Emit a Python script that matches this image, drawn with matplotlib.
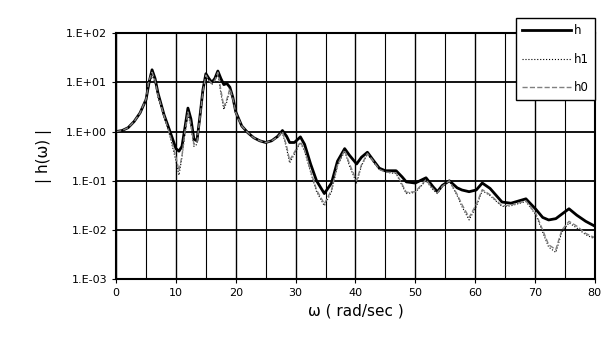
import matplotlib.pyplot as plt

w = [0, 1, 2, 3, 4, 5, 5.5, 6, 6.5, 7, 8, 9, 10, 10.5, 11, 11.5, 12, 12.5, 13, 13.5,
     14, 14.5, 15, 15.5, 16, 16.5, 17, 17.5, 18, 18.5, 19, 19.5, 20, 21, 22, 23, 24, 25,
     26, 27, 27.8, 28.5, 29, 29.8, 30.8, 31.5, 32.5, 33.5, 34.8, 36, 37, 38.2, 39, 40.2,
     41, 42, 43, 44, 45, 46.8, 47.8, 48.5, 50, 51.8, 53, 53.7, 54.5, 55.7, 57, 57.8, 59,
     60.2, 61.2, 62.5, 64.5, 66, 68.5, 70.2, 71.3, 72.3, 73.5, 74.5, 75.7, 77, 78.5, 80]

h = [1.0, 1.05, 1.2, 1.6, 2.4, 4.5, 10, 18, 12, 6, 2.2, 1.0, 0.45, 0.4, 0.5, 1.2, 3.0, 1.8, 0.7, 0.65,
     2.0, 7, 15, 12, 10, 12, 17, 12, 9, 9.5, 8, 5, 2.5, 1.3, 0.95, 0.75, 0.65, 0.6,
     0.65, 0.8, 1.05, 0.8, 0.6, 0.6, 0.78, 0.55, 0.22, 0.1, 0.055, 0.09, 0.25, 0.45, 0.33, 0.22,
     0.3, 0.38, 0.26, 0.18, 0.16, 0.16, 0.12, 0.095, 0.09, 0.115, 0.075, 0.06, 0.08, 0.1, 0.072, 0.065, 0.06,
     0.065, 0.09, 0.07, 0.037, 0.035, 0.043, 0.026, 0.018, 0.016, 0.017, 0.021, 0.027, 0.02, 0.015, 0.012]

h1 = [1.0, 1.05, 1.2, 1.6, 2.4, 4.5, 9, 14, 10, 5, 2, 0.8, 0.25, 0.13, 0.3, 0.9, 2.2, 1.3, 0.5, 0.55,
      1.8, 6, 14, 11, 9, 11, 15, 6, 2.8, 4, 7, 4.5, 2.4, 1.3, 0.95, 0.75, 0.65, 0.6,
      0.65, 0.78, 0.95, 0.45, 0.23, 0.35, 0.6, 0.4, 0.15, 0.06, 0.031, 0.06, 0.2, 0.4, 0.2, 0.09,
      0.2, 0.35, 0.24, 0.17, 0.15, 0.14, 0.08, 0.055, 0.058, 0.1, 0.065, 0.055, 0.075, 0.1, 0.05, 0.03, 0.016,
      0.03, 0.063, 0.05, 0.03, 0.031, 0.038, 0.02, 0.009, 0.0045, 0.0035, 0.009, 0.014, 0.011, 0.008, 0.0066]

h0 = [1.0, 1.05, 1.2, 1.6, 2.4, 4.6, 11, 16, 11, 5.5, 2.1, 0.85, 0.3, 0.16, 0.32, 1.0, 2.5, 1.4, 0.55, 0.6,
      1.9, 6.5, 14, 11, 9.5, 11, 16, 7, 3.2, 4.5, 7.5, 4.7, 2.4, 1.3, 0.95, 0.75, 0.65, 0.6,
      0.65, 0.78, 1.0, 0.5, 0.26, 0.38, 0.62, 0.42, 0.16, 0.065, 0.034, 0.065, 0.21, 0.42, 0.22, 0.1,
      0.21, 0.36, 0.25, 0.17, 0.15, 0.145, 0.085, 0.058, 0.06, 0.105, 0.068, 0.057, 0.077, 0.1, 0.053, 0.033, 0.018,
      0.033, 0.066, 0.052, 0.031, 0.032, 0.039, 0.021, 0.01, 0.005, 0.004, 0.01, 0.015, 0.012, 0.0085, 0.007]

ylabels = ['1.E-03', '1.E-02', '1.E-01', '1.E+00', '1.E+01', '1.E+02']
yticks = [1e-3, 1e-2, 1e-1, 1e0, 1e1, 1e2]

fig = plt.figure(figsize=(6.05, 3.49), dpi=100)
ax = fig.add_axes([0.192, 0.2, 0.791, 0.705])

ax.plot(w, h, color='black', lw=2.0, label='h')
ax.plot(w, h1, color='black', lw=0.8, ls=':', label='h1')
ax.plot(w, h0, color='gray', lw=1.0, ls='--', label='h0')

ax.set_yscale('log')
ax.set_ylim(1e-3, 1e2)
ax.set_xlim(0, 80)
ax.set_yticks(yticks)
ax.set_yticklabels(ylabels)
ax.minorticks_off()
ax.set_xticks(range(0, 81, 10))
ax.set_xticks(range(0, 81, 5), minor=True)
ax.tick_params(axis='x', which='minor', length=0)
ax.tick_params(axis='both', labelsize=8, length=3, direction='out')

ax.grid(True, which='major', axis='y', color='black', lw=1.3)
ax.grid(True, which='major', axis='x', color='black', lw=1.0)
ax.grid(True, which='minor', axis='x', color='black', lw=0.8)
for s in ax.spines.values():
    s.set_linewidth(1.5)

ax.set_xlabel('ω ( rad/sec )', fontsize=11)
ax.set_ylabel('| h(ω) |', fontsize=11, labelpad=10)

leg = ax.legend(loc='upper right', bbox_to_anchor=(1.0, 1.06), fontsize=8.5,
                frameon=True, fancybox=False, framealpha=1, edgecolor='black',
                handlelength=4.2, handletextpad=0.2, labelspacing=1.3,
                borderpad=0.5, borderaxespad=0)
leg.get_frame().set_linewidth(1.0)

fig.savefig('out.png')
